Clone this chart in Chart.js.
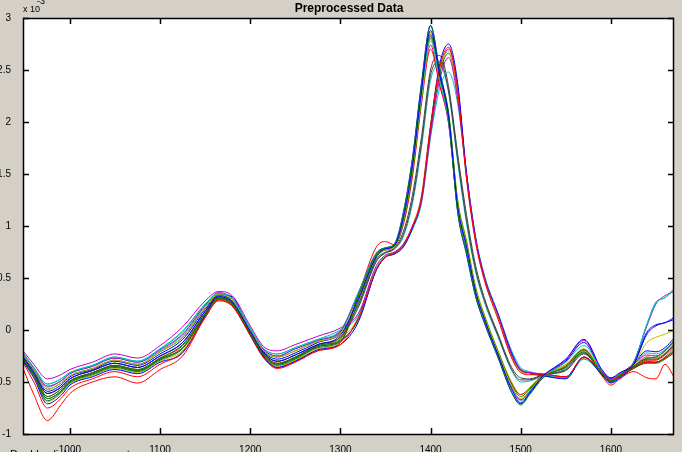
<!DOCTYPE html>
<html>
<head>
<meta charset="utf-8">
<script src="https://cdn.jsdelivr.net/npm/chart.js@4.4.1/dist/chart.umd.min.js"></script>
<style>
html, body { margin: 0; padding: 0; background: #d4d0c8; overflow: hidden; }
#wrap { width: 682px; height: 452px; position: relative; }
</style>
</head>
<body>
<div id="wrap"><canvas id="spectra"></canvas></div>
<script>
// wavenumber grid shared by every spectrum
const wavenumbers = [948, 960, 975, 990, 1000, 1025, 1050, 1075, 1100, 1125, 1150, 1165, 1180, 1200, 1215, 1230, 1250, 1275, 1300, 1320, 1340,
    1350, 1360, 1370, 1380, 1390, 1400, 1410, 1420, 1430, 1440, 1450, 1460, 1475, 1490, 1500, 1510, 1525, 1550, 1570, 1590, 1600, 1610, 1625, 1640, 1650, 1660, 1670];

const xTicks = [1000, 1100, 1200, 1300, 1400, 1500, 1600];
const yTicks = [-1, -0.5, 0, 0.5, 1, 1.5, 2, 2.5, 3];

// values in units of 1e-3
const spectrum01 = [-0.26, -0.41, -0.61, -0.55, -0.47, -0.39, -0.32, -0.36, -0.25, -0.12, 0.18, 0.32, 0.27, -0.01, -0.22, -0.30, -0.24, -0.14, -0.05, 0.30, 0.71,
    0.78, 0.81, 1.08, 1.58, 2.30, 2.88, 2.46, 2.06, 1.20, 0.80, 0.37, 0.10, -0.24, -0.57, -0.70, -0.60, -0.44, -0.28, -0.09, -0.38, -0.46, -0.41, -0.33, -0.02, 0.05, 0.07, 0.12];
const spectrum02 = [-0.28, -0.43, -0.66, -0.59, -0.50, -0.42, -0.35, -0.39, -0.28, -0.17, 0.15, 0.30, 0.25, -0.03, -0.24, -0.33, -0.27, -0.16, -0.09, 0.33, 0.73,
    0.79, 0.82, 1.12, 1.64, 2.36, 2.92, 2.48, 2.02, 1.14, 0.74, 0.33, 0.07, -0.26, -0.60, -0.72, -0.62, -0.46, -0.35, -0.19, -0.42, -0.49, -0.43, -0.35, -0.27, -0.26, -0.20, -0.10];
const spectrum03 = [-0.31, -0.50, -0.75, -0.66, -0.56, -0.47, -0.40, -0.45, -0.33, -0.21, 0.12, 0.29, 0.23, -0.05, -0.27, -0.37, -0.31, -0.20, -0.14, 0.12, 0.58,
    0.70, 0.74, 0.82, 1.00, 1.28, 1.96, 2.52, 2.72, 2.30, 1.44, 0.84, 0.47, 0.10, -0.27, -0.41, -0.43, -0.43, -0.45, -0.26, -0.41, -0.49, -0.44, -0.37, -0.31, -0.31, -0.27, -0.21];
const spectrum04 = [-0.22, -0.36, -0.52, -0.47, -0.41, -0.34, -0.26, -0.30, -0.18, -0.02, 0.25, 0.35, 0.30, 0.02, -0.18, -0.23, -0.17, -0.09, 0.00, 0.36, 0.74,
    0.79, 0.82, 1.12, 1.62, 2.28, 2.80, 2.40, 2.00, 1.16, 0.76, 0.35, 0.09, -0.25, -0.56, -0.68, -0.59, -0.45, -0.31, -0.15, -0.39, -0.46, -0.42, -0.32, 0.05, 0.26, 0.31, 0.38];
const spectrum05 = [-0.20, -0.33, -0.47, -0.43, -0.38, -0.31, -0.23, -0.27, -0.15, 0.03, 0.28, 0.37, 0.33, 0.04, -0.16, -0.20, -0.14, -0.06, 0.02, 0.16, 0.62,
    0.72, 0.75, 0.83, 1.00, 1.24, 1.88, 2.40, 2.62, 2.22, 1.48, 0.88, 0.50, 0.14, -0.24, -0.38, -0.41, -0.42, -0.45, -0.26, -0.41, -0.48, -0.44, -0.31, 0.04, 0.25, 0.33, 0.37];
const spectrum06 = [-0.24, -0.38, -0.57, -0.51, -0.44, -0.37, -0.29, -0.33, -0.21, -0.07, 0.22, 0.34, 0.29, 0.00, -0.20, -0.26, -0.20, -0.11, -0.03, 0.32, 0.72,
    0.77, 0.80, 1.06, 1.55, 2.24, 2.78, 2.40, 2.04, 1.22, 0.82, 0.39, 0.12, -0.22, -0.54, -0.66, -0.58, -0.44, -0.34, -0.20, -0.41, -0.48, -0.43, -0.34, -0.26, -0.27, -0.22, -0.13];
const spectrum07 = [-0.26, -0.41, -0.61, -0.55, -0.47, -0.39, -0.32, -0.36, -0.25, -0.12, 0.18, 0.32, 0.26, -0.01, -0.22, -0.30, -0.24, -0.14, -0.07, 0.22, 0.66,
    0.74, 0.78, 0.92, 1.25, 1.80, 2.45, 2.58, 2.30, 1.65, 1.05, 0.58, 0.28, -0.06, -0.38, -0.48, -0.48, -0.43, -0.38, -0.22, -0.41, -0.48, -0.44, -0.35, -0.28, -0.28, -0.23, -0.14];
const spectrum08 = [-0.30, -0.46, -0.71, -0.63, -0.53, -0.45, -0.38, -0.42, -0.31, -0.22, 0.14, 0.34, 0.32, -0.05, -0.26, -0.36, -0.30, -0.19, -0.14, 0.08, 0.58,
    0.70, 0.73, 0.80, 0.98, 1.26, 1.95, 2.55, 2.75, 2.38, 1.50, 0.88, 0.50, 0.15, -0.22, -0.38, -0.41, -0.44, -0.47, -0.26, -0.43, -0.51, -0.46, -0.34, -0.04, 0.04, 0.07, 0.10];
const spectrum09 = [-0.29, -0.44, -0.68, -0.60, -0.51, -0.43, -0.36, -0.40, -0.29, -0.18, 0.14, 0.30, 0.24, -0.04, -0.25, -0.34, -0.28, -0.17, -0.11, 0.28, 0.70,
    0.77, 0.80, 1.04, 1.52, 2.22, 2.84, 2.44, 2.08, 1.24, 0.84, 0.40, 0.13, -0.21, -0.52, -0.64, -0.57, -0.44, -0.36, -0.21, -0.43, -0.50, -0.45, -0.37, -0.32, -0.32, -0.28, -0.22];
const spectrum10 = [-0.37, -0.62, -0.87, -0.72, -0.61, -0.50, -0.45, -0.51, -0.38, -0.25, 0.12, 0.28, 0.23, -0.05, -0.26, -0.36, -0.30, -0.20, -0.12, 0.34, 0.80,
    0.85, 0.82, 1.02, 1.48, 2.18, 2.70, 2.36, 2.00, 1.20, 0.80, 0.38, 0.12, -0.22, -0.52, -0.62, -0.56, -0.43, -0.35, -0.20, -0.44, -0.53, -0.47, -0.40, -0.46, -0.47, -0.33, -0.45];
const spectrum11 = [-0.22, -0.36, -0.52, -0.47, -0.41, -0.34, -0.26, -0.30, -0.18, -0.01, 0.25, 0.35, 0.31, 0.02, -0.18, -0.23, -0.17, -0.09, 0.00, 0.14, 0.60,
    0.71, 0.74, 0.81, 0.97, 1.22, 1.85, 2.32, 2.48, 2.18, 1.50, 0.90, 0.52, 0.16, -0.20, -0.36, -0.40, -0.43, -0.46, -0.28, -0.42, -0.49, -0.45, -0.32, 0.06, 0.27, 0.31, 0.40];
const spectrum12 = [-0.23, -0.37, -0.54, -0.49, -0.42, -0.35, -0.27, -0.31, -0.19, -0.04, 0.24, 0.36, 0.30, 0.01, -0.19, -0.25, -0.18, -0.10, -0.01, 0.34, 0.73,
    0.78, 0.81, 1.09, 1.57, 2.26, 2.74, 2.36, 1.98, 1.18, 0.78, 0.36, 0.10, -0.23, -0.55, -0.67, -0.59, -0.44, -0.29, -0.10, -0.39, -0.47, -0.42, -0.33, -0.24, -0.25, -0.20, -0.12];
const spectrum13 = [-0.26, -0.41, -0.61, -0.55, -0.47, -0.39, -0.32, -0.36, -0.25, -0.12, 0.18, 0.32, 0.27, -0.01, -0.22, -0.30, -0.24, -0.14, -0.08, 0.12, 0.59,
    0.71, 0.75, 0.82, 1.00, 1.30, 1.98, 2.50, 2.68, 2.26, 1.46, 0.86, 0.48, 0.12, -0.26, -0.40, -0.42, -0.43, -0.45, -0.27, -0.41, -0.49, -0.44, -0.34, -0.12, -0.07, -0.04, 0.00];
const spectrum14 = [-0.24, -0.38, -0.57, -0.51, -0.44, -0.37, -0.29, -0.33, -0.21, -0.07, 0.22, 0.34, 0.28, 0.00, -0.20, -0.26, -0.20, -0.11, -0.04, 0.25, 0.68,
    0.75, 0.79, 0.95, 1.30, 1.86, 2.50, 2.64, 2.34, 1.70, 1.10, 0.62, 0.30, -0.04, -0.36, -0.46, -0.47, -0.43, -0.39, -0.23, -0.42, -0.49, -0.45, -0.36, -0.31, -0.31, -0.27, -0.20];
const spectrum15 = [-0.25, -0.39, -0.59, -0.53, -0.45, -0.38, -0.30, -0.34, -0.23, -0.09, 0.20, 0.33, 0.28, -0.01, -0.21, -0.28, -0.22, -0.12, -0.02, 0.36, 0.74,
    0.79, 0.83, 1.14, 1.66, 2.38, 2.93, 2.50, 2.06, 1.14, 0.72, 0.32, 0.06, -0.27, -0.60, -0.71, -0.61, -0.45, -0.30, -0.12, -0.40, -0.47, -0.42, -0.33, -0.20, -0.21, -0.17, -0.08];
const spectrum16 = [-0.27, -0.42, -0.64, -0.57, -0.49, -0.41, -0.34, -0.38, -0.27, -0.14, 0.16, 0.31, 0.26, -0.02, -0.23, -0.32, -0.26, -0.15, -0.10, 0.10, 0.58,
    0.70, 0.74, 0.81, 0.98, 1.26, 1.92, 2.46, 2.66, 2.28, 1.50, 0.88, 0.50, 0.14, -0.24, -0.39, -0.42, -0.44, -0.46, -0.27, -0.42, -0.50, -0.45, -0.37, -0.30, -0.31, -0.26, -0.18];
const spectrum17 = [-0.27, -0.42, -0.64, -0.57, -0.49, -0.41, -0.34, -0.38, -0.27, -0.15, 0.16, 0.31, 0.25, -0.02, -0.23, -0.32, -0.26, -0.15, -0.07, 0.31, 0.72,
    0.78, 0.81, 1.07, 1.56, 2.26, 2.82, 2.42, 2.02, 1.18, 0.79, 0.38, 0.11, -0.23, -0.55, -0.67, -0.59, -0.45, -0.34, -0.19, -0.42, -0.49, -0.44, -0.36, -0.29, -0.29, -0.24, -0.16];
const spectrum18 = [-0.23, -0.37, -0.55, -0.49, -0.42, -0.35, -0.27, -0.31, -0.20, -0.05, 0.23, 0.35, 0.30, 0.01, -0.19, -0.25, -0.18, -0.10, -0.02, 0.24, 0.67,
    0.74, 0.78, 0.90, 1.22, 1.76, 2.40, 2.55, 2.28, 1.62, 1.02, 0.56, 0.26, -0.07, -0.39, -0.50, -0.49, -0.44, -0.37, -0.21, -0.40, -0.47, -0.43, -0.33, -0.22, -0.23, -0.19, -0.11];
const spectrum19 = [-0.28, -0.43, -0.66, -0.59, -0.50, -0.42, -0.35, -0.39, -0.28, -0.17, 0.15, 0.30, 0.25, -0.03, -0.24, -0.33, -0.27, -0.16, -0.11, 0.11, 0.58,
    0.70, 0.74, 0.81, 0.99, 1.28, 1.94, 2.48, 2.70, 2.34, 1.48, 0.87, 0.49, 0.13, -0.25, -0.39, -0.42, -0.43, -0.46, -0.26, -0.42, -0.50, -0.45, -0.35, -0.26, -0.27, -0.23, -0.15];
const spectrum20 = [-0.29, -0.45, -0.69, -0.61, -0.52, -0.44, -0.37, -0.41, -0.30, -0.20, 0.13, 0.29, 0.23, -0.04, -0.25, -0.35, -0.29, -0.18, -0.12, 0.27, 0.70,
    0.77, 0.80, 1.05, 1.54, 2.24, 2.86, 2.46, 2.10, 1.26, 0.86, 0.42, 0.14, -0.20, -0.50, -0.62, -0.55, -0.43, -0.33, -0.18, -0.40, -0.48, -0.43, -0.35, -0.28, -0.28, -0.22, -0.14];

const spectra = [spectrum01, spectrum02, spectrum03, spectrum04, spectrum05, spectrum06, spectrum07, spectrum08, spectrum09, spectrum10,
    spectrum11, spectrum12, spectrum13, spectrum14, spectrum15, spectrum16, spectrum17, spectrum18, spectrum19, spectrum20];

// matlab default colour order
const lineColors = ['#0000ff', '#008000', '#ff0000', '#00bfbf', '#bf00bf', '#bfbf00', '#404040'];

const datasets = spectra.map((s, i) => ({
    label: 'sample ' + (i + 1),
    data: wavenumbers.map((w, j) => ({ x: w, y: s[j] })),
    borderColor: lineColors[i % lineColors.length],
    borderWidth: 1,
    pointRadius: 0,
    fill: false,
    cubicInterpolationMode: 'monotone',
}));

const frame = {
    id: 'axesFrame',
    beforeDatasetsDraw(chart) {
        const { ctx, chartArea: a } = chart;
        ctx.save();
        ctx.fillStyle = '#ffffff';
        ctx.fillRect(a.left, a.top, a.right - a.left, a.bottom - a.top);
        ctx.restore();
    },
    afterDraw(chart) {
        const { ctx, chartArea: a, scales } = chart;
        ctx.save();
        ctx.fillStyle = '#000000';
        ctx.strokeStyle = '#000000';
        ctx.lineWidth = 1.5;
        ctx.strokeRect(a.left + 0.5, a.top + 0.5, a.right - a.left - 1, a.bottom - a.top);
        // inward ticks on all four sides
        ctx.beginPath();
        xTicks.forEach(v => {
            const px = Math.round(scales.x.getPixelForValue(v)) + 0.5;
            ctx.moveTo(px, a.bottom); ctx.lineTo(px, a.bottom - 6);
            ctx.moveTo(px, a.top); ctx.lineTo(px, a.top + 6);
        });
        yTicks.forEach(v => {
            const py = Math.round(scales.y.getPixelForValue(v)) + 0.5;
            ctx.moveTo(a.left, py); ctx.lineTo(a.left + 6, py);
            ctx.moveTo(a.right, py); ctx.lineTo(a.right - 6, py);
        });
        ctx.stroke();
        ctx.font = 'bold 12px "Liberation Sans", Arial, sans-serif';
        ctx.textAlign = 'center';
        ctx.fillText('Preprocessed Data', 349, 12);
        ctx.textAlign = 'left';
        ctx.font = '9px "Liberation Sans", Arial, sans-serif';
        ctx.fillText('x 10', 23, 12);
        ctx.fillText('-3', 37, 4);
        ctx.font = '11px "Liberation Sans", Arial, sans-serif';
        ctx.fillText('Double click to zoom out', 10, 458);
        ctx.restore();
    },
};

Chart.defaults.font.family = '"Liberation Sans", Arial, sans-serif';
Chart.defaults.font.size = 10;
Chart.defaults.color = '#000';

new Chart(document.getElementById('spectra'), {
    type: 'line',
    data: { datasets },
    plugins: [frame],
    options: {
        responsive: true,
        maintainAspectRatio: false,
        animation: false,
        layout: { padding: { top: 18, right: 8, left: 0, bottom: 0 } },
        plugins: { legend: { display: false }, tooltip: { enabled: false } },
        scales: {
            x: {
                type: 'linear',
                min: 948,
                max: 1670,
                grid: { display: false },
                border: { display: false },
                afterBuildTicks: s => { s.ticks = xTicks.map(v => ({ value: v })); },
                afterFit: s => { s.height = 18; },
                ticks: { padding: 2, maxRotation: 0, autoSkip: false, callback: v => String(v) },
            },
            y: {
                min: -1,
                max: 3,
                grid: { display: false },
                border: { display: false },
                afterBuildTicks: s => { s.ticks = yTicks.map(v => ({ value: v })); },
                afterFit: s => { s.width = 23; },
                ticks: { padding: 4, autoSkip: false, callback: v => String(v) },
            },
        },
    },
});
</script>
</body>
</html>
